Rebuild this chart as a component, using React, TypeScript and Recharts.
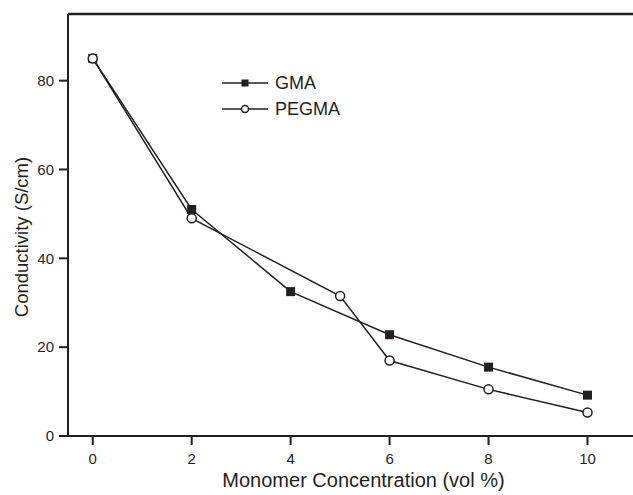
import { LineChart, Line, XAxis, YAxis, ReferenceLine } from "recharts"

const gmaX = [0, 2, 4, 6, 8, 10]
const gmaY = [85, 51, 32.5, 22.8, 15.5, 9.2]
const pegmaX = [0, 2, 5, 6, 8, 10]
const pegmaY = [85, 49, 31.5, 17, 10.5, 5.3]
const xTicks = [0, 2, 4, 6, 8, 10]
const yTicks = [0, 20, 40, 60, 80]

const gmaData = gmaX.map((x, i) => ({ x, y: gmaY[i] }))
const pegmaData = pegmaX.map((x, i) => ({ x, y: pegmaY[i] }))

const ink = "#231f20"
const font = "'Liberation Sans', Arial, sans-serif"

const SquareDot = (props: any) => {
  const { cx, cy, index } = props
  return <rect key={"s" + index} x={cx - 4.5} y={cy - 4.5} width={9} height={9} fill={ink} />
}

const CircleDot = (props: any) => {
  const { cx, cy, index } = props
  return <circle key={"c" + index} cx={cx} cy={cy} r={4.5} fill="#fff" stroke={ink} strokeWidth={1.5} />
}

// legend drawn as an overlay so it doesn't take room from the plot
function LegendBox() {
  const row = (name: string, square: boolean) => (
    <div style={{ display: "flex", alignItems: "center", height: 26 }}>
      <svg width={48} height={14}>
        <line x1={0} y1={7} x2={46} y2={7} stroke={ink} strokeWidth={1.5} />
        {square ? (
          <rect x={19.5} y={3.5} width={7} height={7} fill={ink} />
        ) : (
          <circle cx={23} cy={7} r={3.5} fill="#fff" stroke={ink} strokeWidth={1.5} />
        )}
      </svg>
      <span style={{ marginLeft: 5, fontSize: 18, color: ink, fontFamily: font, lineHeight: 1 }}>{name}</span>
    </div>
  )
  return (
    <div style={{ position: "absolute", left: 222, top: 70 }}>
      {row("GMA", true)}
      {row("PEGMA", false)}
    </div>
  )
}

export default function App() {
  return (
    <div style={{ position: "absolute", left: 0, top: 0, width: 633, height: 495, background: "#fff" }}>
      <LineChart width={633} height={495} margin={{ top: 14, right: 0, bottom: 0, left: 0 }}>
        <XAxis
          dataKey="x"
          type="number"
          domain={[-0.5, 10.92]}
          ticks={xTicks}
          allowDataOverflow
          height={59}
          stroke={ink}
          strokeWidth={2}
          tickSize={9}
          tickMargin={8}
          tick={{ fill: ink, fontSize: 15, fontFamily: font }}
          label={{
            value: "Monomer Concentration (vol %)",
            position: "insideBottom",
            offset: 8,
            dx: 13,
            fill: ink,
            fontSize: 20,
            fontFamily: font,
          }}
        />
        <YAxis
          type="number"
          domain={[0, 95]}
          ticks={yTicks}
          width={68}
          stroke={ink}
          strokeWidth={2}
          tickSize={9}
          tickMargin={5}
          tick={{ fill: ink, fontSize: 15, fontFamily: font }}
          label={{
            content: (p: any) => {
              const vb = p.viewBox
              const cx = 21
              const cy = vb.y + vb.height / 2 + 12
              return (
                <text
                  x={cx}
                  y={cy}
                  transform={`rotate(-90, ${cx}, ${cy})`}
                  textAnchor="middle"
                  dominantBaseline="central"
                  fill={ink}
                  fontSize={18.5}
                  fontFamily={font}
                >
                  Conductivity (S/cm)
                </text>
              )
            },
          }}
        />
        <ReferenceLine y={95} stroke={ink} strokeWidth={2.5} ifOverflow="visible" />
        <Line
          data={gmaData}
          dataKey="y"
          name="GMA"
          stroke={ink}
          strokeWidth={1.5}
          dot={SquareDot}
          isAnimationActive={false}
        />
        <Line
          data={pegmaData}
          dataKey="y"
          name="PEGMA"
          stroke={ink}
          strokeWidth={1.5}
          dot={CircleDot}
          isAnimationActive={false}
        />
      </LineChart>
      <LegendBox />
    </div>
  )
}
